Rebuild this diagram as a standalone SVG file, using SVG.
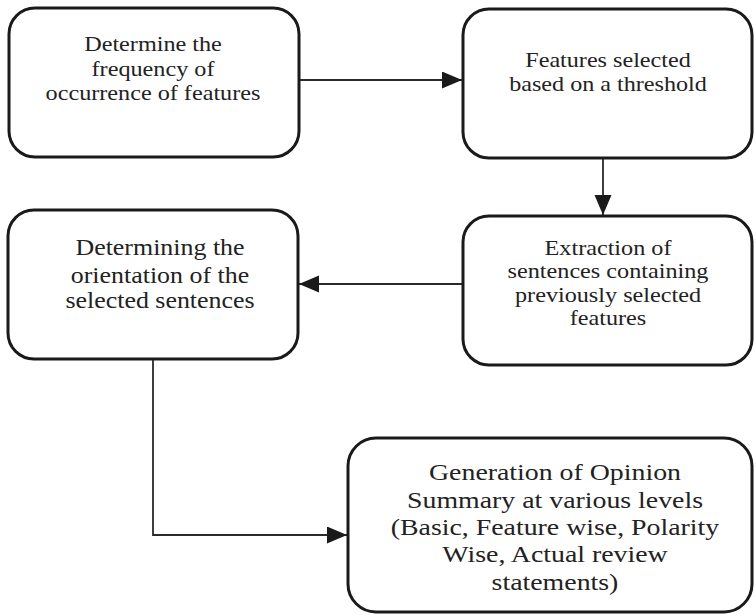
<svg xmlns="http://www.w3.org/2000/svg" width="755" height="615" viewBox="0 0 755 615">
<style>
.box{fill:#fff;stroke:#1a1a1a;stroke-width:3}
.t{font-family:"Liberation Serif","Times New Roman",serif;fill:#222;text-anchor:middle}
.s21{font-size:21px}
.s22{font-size:22px}
.s24{font-size:24px}
.c{fill:none;stroke:#2a2a2a;stroke-width:1.8}
</style>
<defs>
<marker id="ah" markerUnits="userSpaceOnUse" markerWidth="20" markerHeight="18" refX="20" refY="8.5" orient="auto">
<path d="M0,0 L20,8.5 L0,17 z" fill="#1a1a1a"/>
</marker>
</defs>
<rect width="755" height="615" fill="#fff"/>
<g id="connectors">
<line class="c" x1="299" y1="80" x2="462" y2="80" marker-end="url(#ah)"/>
<line class="c" x1="603" y1="158" x2="603" y2="215" marker-end="url(#ah)"/>
<line class="c" x1="463" y1="284" x2="299" y2="284" marker-end="url(#ah)"/>
<polyline class="c" points="153,359 153,535 347,535" marker-end="url(#ah)"/>
</g>
<g id="node1">
<rect class="box" x="9" y="8" width="290" height="149" rx="26"/>
<g transform="translate(153,0) scale(1.1,1)">
<text class="t s22" x="0" y="51">Determine the</text>
<text class="t s22" x="0" y="76">frequency of</text>
<text class="t s22" x="0" y="100">occurrence of features</text>
</g>
</g>
<g id="node2">
<rect class="box" x="463" y="9" width="289" height="149" rx="26"/>
<g transform="translate(608,0) scale(1.15,1)">
<text class="t s21" x="0" y="67">Features selected</text>
<text class="t s21" x="0" y="91">based on a threshold</text>
</g>
</g>
<g id="node3">
<rect class="box" x="463" y="216" width="289" height="149" rx="26"/>
<g transform="translate(608,0) scale(1.1,1)">
<text class="t s22" x="0" y="255">Extraction of</text>
<text class="t s22" x="0" y="278">sentences containing</text>
<text class="t s22" x="0" y="302">previously selected</text>
<text class="t s22" x="0" y="325">features</text>
</g>
</g>
<g id="node4">
<rect class="box" x="8" y="210" width="290" height="149" rx="26"/>
<g transform="translate(160,0) scale(1.08,1)">
<text class="t s24" x="0" y="255">Determining the</text>
<text class="t s24" x="0" y="283">orientation of the</text>
<text class="t s24" x="0" y="308">selected sentences</text>
</g>
</g>
<g id="node5">
<rect class="box" x="348" y="438" width="404" height="174" rx="28"/>
<g transform="translate(555,0) scale(1.16,1)">
<text class="t s24" x="0" y="480">Generation of Opinion</text>
<text class="t s24" x="0" y="508">Summary at various levels</text>
<text class="t s24" x="0" y="535">(Basic, Feature wise, Polarity</text>
<text class="t s24" x="0" y="562">Wise, Actual review</text>
<text class="t s24" x="0" y="590">statements)</text>
</g>
</g>
</svg>
